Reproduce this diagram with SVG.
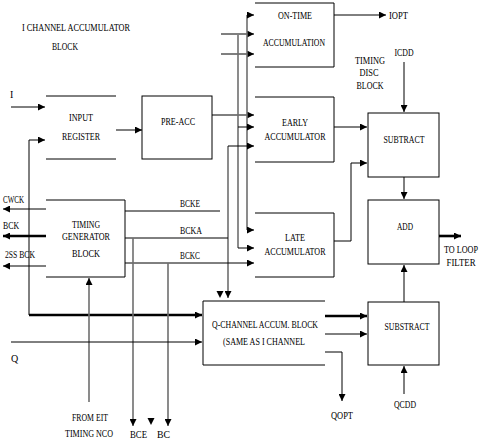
<svg xmlns="http://www.w3.org/2000/svg" width="485" height="440" viewBox="0 0 485 440">
<defs>
<marker id="a" markerUnits="userSpaceOnUse" markerWidth="8" markerHeight="7" refX="7" refY="3.5" orient="auto"><path d="M0,0 L7,3.5 L0,7 z" fill="#000"/></marker>
<style>
text{font-family:"Liberation Serif","Times New Roman",serif;font-size:10px;fill:#000}
.m{text-anchor:middle}
.c line,.c path{fill:none;stroke:#000;stroke-width:1}
.c .t{stroke-width:2.6}
.c .g{stroke:#6f6f6f;stroke-width:1.6}
.c .h{fill:#000;stroke:none}
.b{fill:none;stroke:#000;stroke-width:1}
</style>
</defs>
<rect width="485" height="440" fill="#fff"/>

<g id="title">
<text x="22" y="31" textLength="108" lengthAdjust="spacingAndGlyphs">I CHANNEL ACCUMULATOR</text>
<text x="52" y="50" textLength="26" lengthAdjust="spacingAndGlyphs">BLOCK</text>
</g>

<g id="input-register">
<path class="b" d="M46,96 H116 M46,159 H116"/>
<text class="m" x="81" y="121" textLength="24" lengthAdjust="spacingAndGlyphs">INPUT</text>
<text class="m" x="81" y="140" textLength="38" lengthAdjust="spacingAndGlyphs">REGISTER</text>
</g>

<g id="pre-acc">
<rect class="b" x="142" y="96" width="70" height="63"/>
<text class="m" x="178" y="125" textLength="34" lengthAdjust="spacingAndGlyphs">PRE-ACC</text>
</g>

<g id="on-time">
<path class="b" d="M255,3 H334 V67 H255"/>
<text class="m" x="295" y="19" textLength="34" lengthAdjust="spacingAndGlyphs">ON-TIME</text>
<text class="m" x="294" y="46" textLength="62" lengthAdjust="spacingAndGlyphs">ACCUMULATION</text>
</g>

<g id="early">
<path class="b" d="M255,97 H334 V162 H255"/>
<text class="m" x="295" y="126" textLength="26" lengthAdjust="spacingAndGlyphs">EARLY</text>
<text class="m" x="295" y="140" textLength="61" lengthAdjust="spacingAndGlyphs">ACCUMULATOR</text>
</g>

<g id="late">
<path class="b" d="M255,213 H334 V277 H255"/>
<text class="m" x="295" y="241" textLength="20" lengthAdjust="spacingAndGlyphs">LATE</text>
<text class="m" x="295" y="255" textLength="61" lengthAdjust="spacingAndGlyphs">ACCUMULATOR</text>
</g>

<g id="timing-disc">
<text class="m" x="370" y="64" textLength="30" lengthAdjust="spacingAndGlyphs">TIMING</text>
<text class="m" x="369" y="76" textLength="19" lengthAdjust="spacingAndGlyphs">DISC</text>
<text class="m" x="370" y="89" textLength="27" lengthAdjust="spacingAndGlyphs">BLOCK</text>
</g>

<g id="subtract">
<rect class="b" x="368" y="113" width="71" height="64"/>
<text class="m" x="404" y="143" textLength="41" lengthAdjust="spacingAndGlyphs">SUBTRACT</text>
</g>

<g id="add">
<rect class="b" x="368" y="200" width="71" height="64"/>
<text class="m" x="405" y="230" textLength="16" lengthAdjust="spacingAndGlyphs">ADD</text>
</g>

<g id="substract">
<rect class="b" x="368" y="302" width="71" height="63"/>
<text class="m" x="407" y="330" textLength="45" lengthAdjust="spacingAndGlyphs">SUBSTRACT</text>
</g>

<g id="timing-generator">
<path class="b" d="M46,200 H125 V277 H46"/>
<text class="m" x="86" y="228" textLength="28" lengthAdjust="spacingAndGlyphs">TIMING</text>
<text class="m" x="86" y="240" textLength="48" lengthAdjust="spacingAndGlyphs">GENERATOR</text>
<text class="m" x="86" y="257" textLength="28" lengthAdjust="spacingAndGlyphs">BLOCK</text>
</g>

<g id="q-channel">
<path class="b" d="M325,301 H203 V365 H325"/>
<text class="m" x="265" y="328" textLength="106" lengthAdjust="spacingAndGlyphs">Q-CHANNEL ACCUM. BLOCK</text>
<text class="m" x="264" y="345" textLength="82" lengthAdjust="spacingAndGlyphs">(SAME AS I CHANNEL</text>
</g>

<g id="labels">
<text x="10" y="98">I</text>
<text x="11" y="362">Q</text>
<text x="3" y="203" textLength="21" lengthAdjust="spacingAndGlyphs">CWCK</text>
<text x="3" y="229" textLength="16" lengthAdjust="spacingAndGlyphs">BCK</text>
<text x="5" y="258" textLength="30" lengthAdjust="spacingAndGlyphs">2SS BCK</text>
<text class="m" x="190" y="207" textLength="20" lengthAdjust="spacingAndGlyphs">BCKE</text>
<text class="m" x="191" y="234" textLength="22" lengthAdjust="spacingAndGlyphs">BCKA</text>
<text class="m" x="190" y="259" textLength="20" lengthAdjust="spacingAndGlyphs">BCKC</text>
<text x="389" y="19" textLength="19" lengthAdjust="spacingAndGlyphs">IOPT</text>
<text class="m" x="404" y="56" textLength="19" lengthAdjust="spacingAndGlyphs">ICDD</text>
<text class="m" x="461" y="253" textLength="34" lengthAdjust="spacingAndGlyphs">TO LOOP</text>
<text class="m" x="461" y="266" textLength="29" lengthAdjust="spacingAndGlyphs">FILTER</text>
<text class="m" x="342" y="419" textLength="22" lengthAdjust="spacingAndGlyphs">QOPT</text>
<text class="m" x="405" y="408" textLength="22" lengthAdjust="spacingAndGlyphs">QCDD</text>
<text class="m" x="90" y="421" textLength="36" lengthAdjust="spacingAndGlyphs">FROM EIT</text>
<text class="m" x="89" y="437" textLength="48" lengthAdjust="spacingAndGlyphs">TIMING NCO</text>
<text x="130" y="438" font-size="7" textLength="17" lengthAdjust="spacingAndGlyphs">BCE</text>
<text x="157" y="438" font-size="7" textLength="13" lengthAdjust="spacingAndGlyphs">BC</text>
</g>

<g id="connectors" class="c">
<path d="M11,107 H45" marker-end="url(#a)"/>
<path d="M29,315 V140 H45" marker-end="url(#a)"/>
<path class="t" d="M29,315 H202" marker-end="url(#a)"/>
<path d="M116,130 H142" marker-end="url(#a)"/>
<path d="M212,115 H254" marker-end="url(#a)"/>
<path d="M221,34 H254" marker-end="url(#a)"/>
<path d="M221,54 H254" marker-end="url(#a)"/>
<path class="g" d="M247,15 V230"/>
<path d="M247,15 H254" marker-end="url(#a)"/>
<path d="M247,230 H254" marker-end="url(#a)"/>
<path class="g" d="M238,35 V248"/>
<path d="M238,127 H254" marker-end="url(#a)"/>
<path d="M238,248 H254" marker-end="url(#a)"/>
<path class="g" d="M228,146 V298" marker-end="url(#a)"/>
<path d="M228,146 H254" marker-end="url(#a)"/>
<path class="h" d="M216.5,291 L223.5,291 L220,298 z"/>
<path d="M125,211 H220"/>
<path d="M125,238 H228"/>
<path d="M125,263 H254" marker-end="url(#a)"/>
<path class="g" d="M133,238 V426" marker-end="url(#a)"/>
<path class="g" d="M168,263 V426" marker-end="url(#a)"/>
<path class="h" d="M147.5,418 L154.5,418 L151,425 z"/>
<path class="g" d="M89,402 V278" marker-end="url(#a)"/>
<path d="M46,209 H3" marker-end="url(#a)"/>
<path class="t" d="M46,236 H3" marker-end="url(#a)"/>
<path d="M46,266 H3" marker-end="url(#a)"/>
<path d="M11,342 H202" marker-end="url(#a)"/>
<path class="t" d="M325,316 H367" marker-end="url(#a)"/>
<path d="M325,334 H367" marker-end="url(#a)"/>
<path d="M325,352 H342 V401" marker-end="url(#a)"/>
<path d="M334,15 H386" marker-end="url(#a)"/>
<path d="M334,127 H367" marker-end="url(#a)"/>
<path d="M334,241 H351 V163 H367" marker-end="url(#a)"/>
<path d="M404,62 V112" marker-end="url(#a)"/>
<path d="M404,177 V199" marker-end="url(#a)"/>
<path d="M404,302 V265" marker-end="url(#a)"/>
<path d="M404,394 V366" marker-end="url(#a)"/>
<path class="t" d="M439,236 H461" marker-end="url(#a)"/>
</g>
</svg>
